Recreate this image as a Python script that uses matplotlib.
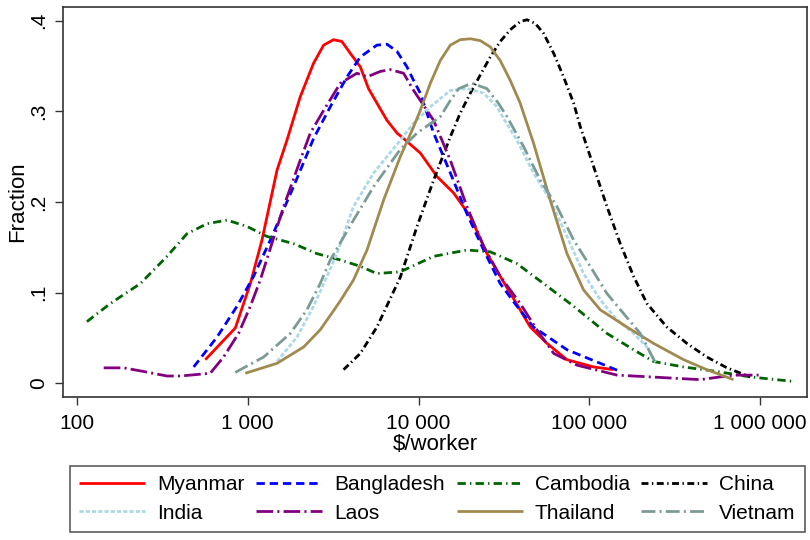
import matplotlib
matplotlib.use("Agg")
import matplotlib.pyplot as plt
import numpy as np

plt.rcParams['font.family'] = ['Liberation Sans', 'DejaVu Sans']
plt.rcParams['lines.scale_dashes'] = False

# log10($/worker) and fraction
myanmar_logx = [2.751, 2.927, 3.015, 3.083, 3.171, 3.229, 3.307, 3.385, 3.444, 3.502, 3.551,
                3.600, 3.659, 3.707, 3.756, 3.815, 3.874, 3.912, 4.010, 4.108, 4.205, 4.303,
                4.401, 4.478, 4.595, 4.654, 4.752, 4.869, 5.025, 5.142]
myanmar_y = [0.026, 0.061, 0.110, 0.158, 0.235, 0.268, 0.316, 0.353, 0.373, 0.379, 0.377,
             0.364, 0.349, 0.325, 0.309, 0.290, 0.276, 0.270, 0.254, 0.228, 0.210, 0.184,
             0.143, 0.118, 0.081, 0.062, 0.044, 0.026, 0.018, 0.015]

bangladesh_logx = [2.683, 2.820, 2.937, 3.034, 3.132, 3.268, 3.385, 3.483, 3.581, 3.659, 3.756,
                   3.815, 3.874, 3.932, 3.971, 4.010, 4.088, 4.186, 4.283, 4.381, 4.478, 4.576,
                   4.673, 4.869, 5.064, 5.181]
bangladesh_y = [0.018, 0.051, 0.085, 0.118, 0.158, 0.217, 0.270, 0.305, 0.338, 0.360, 0.373,
                0.374, 0.366, 0.349, 0.334, 0.320, 0.276, 0.232, 0.187, 0.147, 0.110, 0.085,
                0.062, 0.037, 0.022, 0.013]

cambodia_logx = [2.058, 2.195, 2.371, 2.527, 2.644, 2.761, 2.878, 2.995, 3.112, 3.268, 3.405,
                 3.542, 3.659, 3.756, 3.893, 4.088, 4.283, 4.420, 4.576, 4.732, 4.908, 5.103,
                 5.259, 5.376, 5.552, 5.747, 5.942, 6.196]
cambodia_y = [0.068, 0.088, 0.110, 0.140, 0.165, 0.176, 0.180, 0.173, 0.162, 0.154, 0.143,
              0.136, 0.129, 0.121, 0.123, 0.140, 0.147, 0.145, 0.132, 0.110, 0.085, 0.055,
              0.037, 0.024, 0.018, 0.013, 0.007, 0.002]

china_logx = [3.561, 3.659, 3.756, 3.893, 3.991, 4.088, 4.186, 4.244, 4.303, 4.361, 4.420,
              4.478, 4.537, 4.595, 4.635, 4.683, 4.732, 4.791, 4.849, 4.908, 4.947, 5.025,
              5.103, 5.181, 5.259, 5.337, 5.454, 5.571, 5.688, 5.806, 5.942]
china_y = [0.015, 0.033, 0.062, 0.117, 0.173, 0.224, 0.272, 0.298, 0.320, 0.340, 0.360,
           0.377, 0.390, 0.399, 0.401, 0.397, 0.386, 0.364, 0.338, 0.309, 0.283, 0.239,
           0.195, 0.154, 0.118, 0.088, 0.062, 0.044, 0.029, 0.017, 0.007]

india_logx = [3.171, 3.288, 3.385, 3.464, 3.522, 3.619, 3.737, 3.893, 3.971, 4.069, 4.186,
              4.283, 4.381, 4.459, 4.498, 4.576, 4.673, 4.771, 4.869, 4.966, 5.064, 5.162,
              5.259, 5.337, 5.386]
india_y = [0.024, 0.051, 0.085, 0.118, 0.143, 0.195, 0.232, 0.268, 0.287, 0.305, 0.323,
           0.325, 0.320, 0.305, 0.292, 0.268, 0.232, 0.202, 0.162, 0.121, 0.092, 0.070,
           0.055, 0.040, 0.023]

laos_logx = [2.156, 2.273, 2.390, 2.527, 2.605, 2.780, 2.858, 2.946, 3.015, 3.073, 3.122,
             3.210, 3.307, 3.366, 3.444, 3.542, 3.639, 3.698, 3.776, 3.834, 3.912, 3.971,
             4.088, 4.186, 4.283, 4.381, 4.478, 4.595, 4.693, 4.791, 4.927, 5.162, 5.454,
             5.649, 5.766, 5.844, 5.991]
laos_y = [0.017, 0.017, 0.013, 0.008, 0.008, 0.011, 0.029, 0.055, 0.085, 0.114, 0.143,
          0.195, 0.246, 0.276, 0.301, 0.331, 0.342, 0.338, 0.344, 0.346, 0.342, 0.323,
          0.290, 0.246, 0.195, 0.151, 0.118, 0.088, 0.059, 0.033, 0.020, 0.009, 0.006,
          0.004, 0.007, 0.009, 0.009]

thailand_logx = [2.985, 3.171, 3.327, 3.424, 3.502, 3.542, 3.619, 3.698, 3.795, 3.893, 3.971,
                 4.010, 4.069, 4.127, 4.186, 4.244, 4.303, 4.361, 4.420, 4.478, 4.537, 4.595,
                 4.625, 4.673, 4.771, 4.869, 4.966, 5.064, 5.220, 5.376, 5.552, 5.688, 5.844]
thailand_y = [0.011, 0.022, 0.040, 0.059, 0.080, 0.091, 0.114, 0.147, 0.202, 0.250, 0.283,
              0.301, 0.331, 0.356, 0.373, 0.379, 0.380, 0.378, 0.371, 0.356, 0.334, 0.309,
              0.292, 0.265, 0.202, 0.143, 0.103, 0.081, 0.062, 0.044, 0.026, 0.015, 0.004]

vietnam_logx = [2.927, 3.093, 3.249, 3.346, 3.424, 3.483, 3.619, 3.737, 3.893, 3.991, 4.127,
                4.186, 4.235, 4.312, 4.400, 4.467, 4.518, 4.615, 4.713, 4.810, 4.908, 5.005,
                5.103, 5.200, 5.298, 5.386]
vietnam_y = [0.012, 0.029, 0.055, 0.081, 0.110, 0.136, 0.180, 0.217, 0.258, 0.276, 0.294,
             0.312, 0.325, 0.331, 0.325, 0.309, 0.294, 0.261, 0.224, 0.195, 0.158, 0.129,
             0.099, 0.077, 0.055, 0.023]

x_ticks = [100, 1000, 10000, 100000, 1000000]
x_ticklabels = ['100', '1 000', '10 000', '100 000', '1 000 000']
y_ticks = [0, 0.1, 0.2, 0.3, 0.4]
y_ticklabels = ['0', '.1', '.2', '.3', '.4']

series = [
    ('Myanmar', myanmar_logx, myanmar_y, 'red', '-'),
    ('Bangladesh', bangladesh_logx, bangladesh_y, 'blue', (0, (6, 3.5))),
    ('Cambodia', cambodia_logx, cambodia_y, '#006400', (0, (6, 3, 1, 3))),
    ('China', china_logx, china_y, 'black', (0, (5, 2.5, 1, 2.5))),
    ('India', india_logx, india_y, '#add8e6', (0, (3, 1.5))),
    ('Laos', laos_logx, laos_y, '#800080', (0, (12, 3, 1.5, 3))),
    ('Thailand', thailand_logx, thailand_y, '#a08a50', '-'),
    ('Vietnam', vietnam_logx, vietnam_y, '#7d9b96', (0, (10, 3, 1.5, 3))),
]

fig = plt.figure(figsize=(8.1, 5.4), dpi=100)
ax = fig.add_axes([0.0774, 0.2654, 0.919, 0.7222])

handles = {}
for name, lx, yv, color, ls in series:
    line, = ax.plot(10 ** np.array(lx), yv, color=color, linestyle=ls, linewidth=2.0,
                    label=name, solid_capstyle='butt', dash_capstyle='butt',
                    solid_joinstyle='round')
    handles[name] = line

ax.set_xscale('log')
ax.set_xlim(10 ** 1.916, 10 ** 6.275)
ax.set_ylim(-0.0148, 0.4154)
ax.set_xticks(x_ticks)
ax.set_xticklabels(x_ticklabels, fontsize=15)
ax.minorticks_off()
ax.set_yticks(y_ticks)
ax.set_yticklabels(y_ticklabels, fontsize=15, rotation=90, va='center')
ax.tick_params(direction='out', length=5.5, width=1, color='#333333')
ax.tick_params(axis='x', pad=7)
ax.tick_params(axis='y', pad=5)
ax.set_xlabel(r'\$/worker', fontsize=16, labelpad=1)
ax.set_ylabel('Fraction', fontsize=16, labelpad=1)
for sp in ax.spines.values():
    sp.set_color('#333333')
    sp.set_linewidth(1.2)

order = ['Myanmar', 'India', 'Bangladesh', 'Laos', 'Cambodia', 'Thailand', 'China', 'Vietnam']
leg = fig.legend([handles[n] for n in order], order, ncol=4, loc='upper left',
                 bbox_to_anchor=(70 / 810, 1 - 466 / 540),
                 fontsize=15, handlelength=3.17, handletextpad=0.58, columnspacing=0.55,
                 borderpad=0.45, fancybox=False, edgecolor='#333333', borderaxespad=0,
                 labelspacing=0.45)
leg.get_frame().set_linewidth(1.2)

fig.savefig('out.png', dpi=100, facecolor='white')
